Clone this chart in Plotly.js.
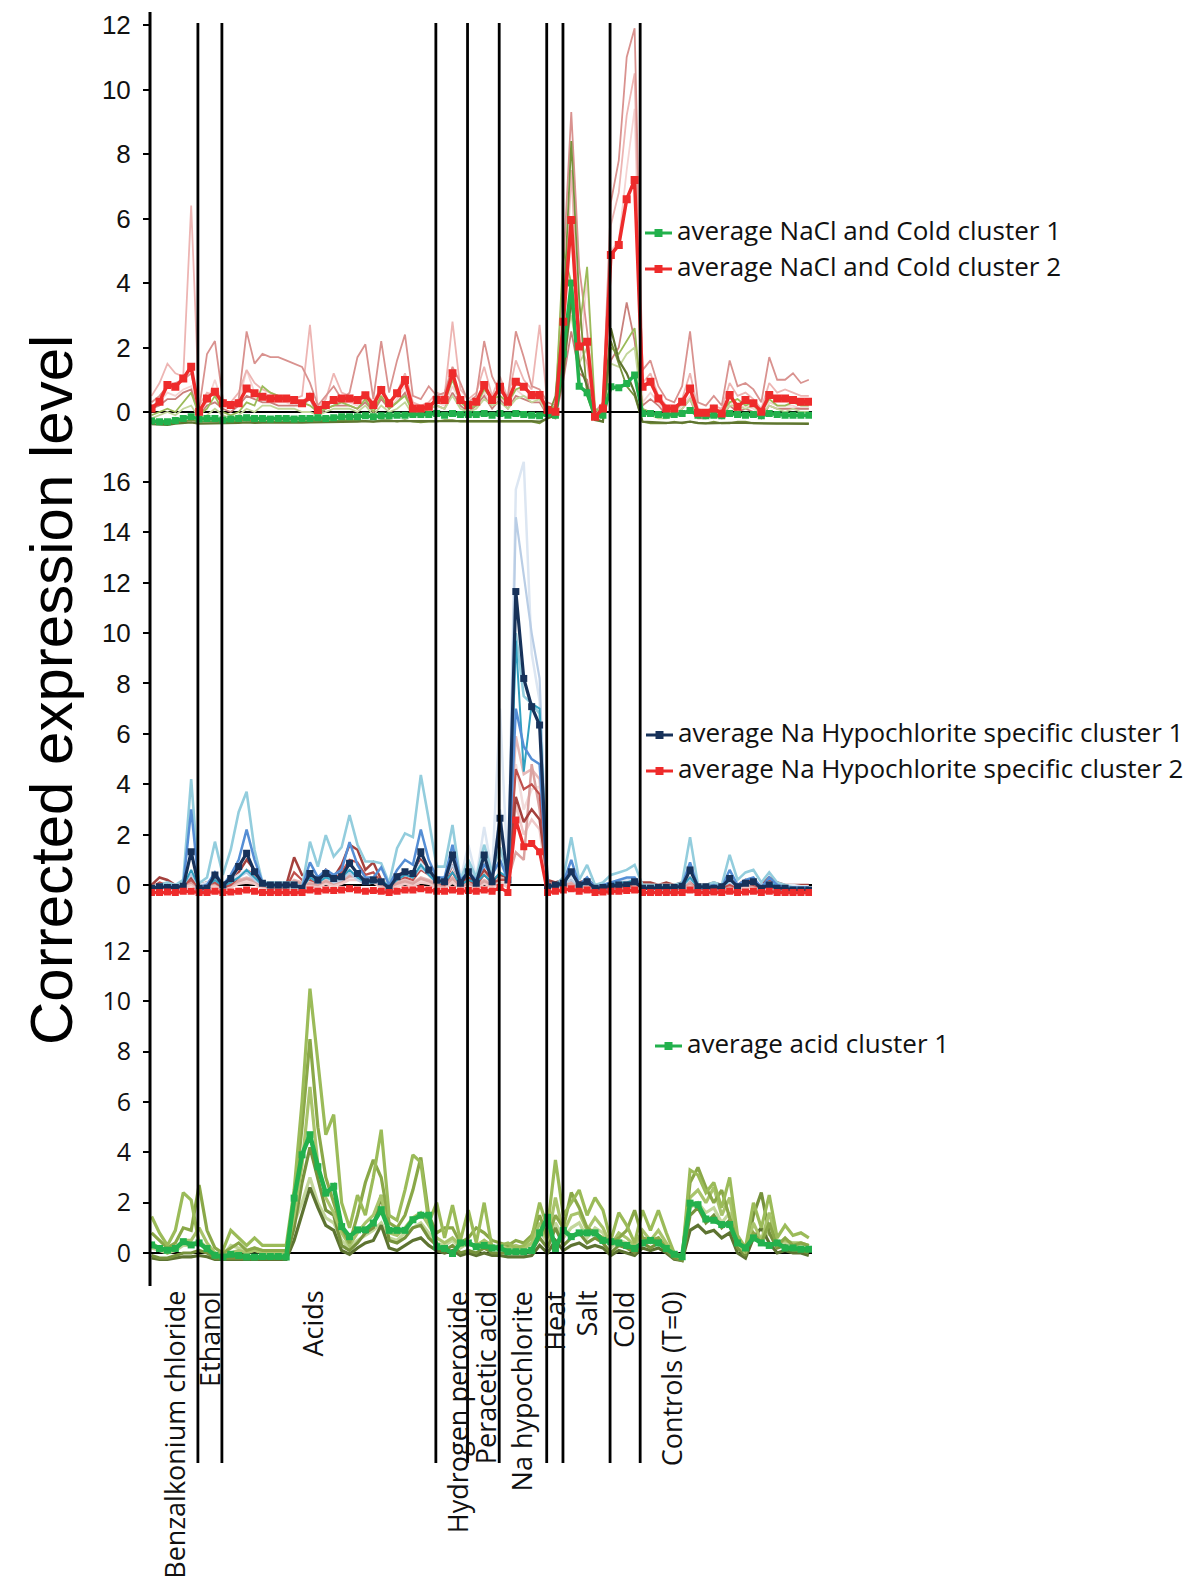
<!DOCTYPE html>
<html><head><meta charset="utf-8">
<script src="https://cdn.plot.ly/plotly-3.0.1.min.js"></script>
<style>html,body{margin:0;padding:0;background:#fff}#chart{width:1200px;height:1585px}</style>
</head><body><div id="chart"></div>
<script>
// ---------- sample index (84 samples) ----------
const samples = [0,1,2,3,4,5,6,7,8,9,10,11,12,13,14,15,16,17,18,19,20,21,22,23,24,25,26,27,28,29,30,31,32,33,34,35,36,37,38,39,40,41,42,43,44,45,46,47,48,49,50,51,52,53,54,55,56,57,58,59,60,61,62,63,64,65,66,67,68,69,70,71,72,73,74,75,76,77,78,79,80,81,82,83];

// section boundaries (in sample units) and labels
const sectionLines = [5.85, 8.88, 35.9, 39.9, 43.9, 49.9, 51.95, 57.9, 61.7];
const conditionLabels = ["Benzalkonium chloride","Ethanol","Acids","Hydrogen peroxide","Peracetic acid","Na hypochlorite","Heat","Salt","Cold","Controls (T=0)"];
const conditionLabelPos = [2.8, 7.25, 20.2, 38.6, 42.2, 46.7, 50.8, 54.8, 59.6, 65.7];

// ---------- Panel 1: NaCl and Cold clusters ----------
const naclAvg1 = [
-0.28,-0.30,-0.30,-0.26,-0.20,-0.15,-0.22,-0.20,-0.20,-0.25,
-0.22,-0.20,-0.18,-0.20,-0.20,-0.22,-0.20,-0.20,-0.22,-0.20,
-0.20,-0.18,-0.20,-0.18,-0.15,-0.15,-0.15,-0.12,-0.15,-0.12,
-0.12,-0.10,-0.10,-0.08,-0.08,-0.08,-0.05,-0.10,-0.05,-0.08,
-0.08,-0.08,-0.05,-0.10,-0.05,-0.10,-0.05,-0.08,-0.10,-0.12,
-0.05,-0.10,1.80,4.00,0.80,0.60,-0.15,-0.10,0.78,0.75,
0.88,1.15,-0.05,-0.05,-0.08,-0.10,-0.08,-0.05,0.05,-0.10,
-0.12,-0.10,-0.12,-0.05,-0.08,-0.10,-0.08,-0.12,-0.05,-0.08,
-0.10,-0.10,-0.10,-0.10];
const naclAvg2 = [
0.11,0.32,0.84,0.78,1.04,1.40,0.01,0.42,0.63,0.27,
0.22,0.27,0.73,0.58,0.47,0.42,0.42,0.42,0.37,0.27,
0.47,0.06,0.22,0.37,0.42,0.42,0.37,0.52,0.22,0.68,
0.27,0.58,0.99,0.11,0.11,0.16,0.37,0.37,1.20,0.37,
0.22,0.32,0.84,0.37,0.78,0.32,0.94,0.78,0.53,0.53,
0.06,0.01,2.80,5.95,2.03,2.18,-0.15,0.11,4.87,5.18,
6.60,7.19,0.78,0.94,0.42,0.11,0.11,0.32,0.73,-0.02,
-0.02,0.11,-0.05,0.53,0.16,0.37,0.27,0.01,0.53,0.42,
0.42,0.37,0.32,0.32];
const naclPink1 = [
0.50,0.90,1.50,1.20,1.10,6.40,0.20,0.60,0.50,0.30,
0.30,0.60,1.30,0.90,0.70,0.60,0.50,0.50,0.40,0.50,
2.70,0.10,0.40,1.20,0.60,0.50,0.40,0.60,0.30,0.80,
0.30,0.60,1.20,0.30,0.20,0.30,0.60,0.50,2.80,0.70,
0.40,0.60,1.40,0.50,1.10,0.40,1.60,1.00,0.70,2.70,
0.20,0.10,2.00,7.50,2.20,1.50,-0.10,0.20,5.80,6.80,
9.20,10.50,0.90,1.20,0.50,0.20,0.10,0.40,1.20,0.10,
0.00,0.20,0.10,0.90,0.50,0.60,0.40,0.10,0.90,0.60,
0.70,0.60,0.50,0.50];
const naclPink2 = [
0.30,0.50,0.80,0.90,1.00,1.20,0.10,1.80,2.20,0.40,
0.20,0.40,2.50,1.50,1.80,1.70,1.70,1.60,1.50,1.40,
0.90,0.20,0.50,0.80,0.40,0.60,1.70,2.10,0.40,2.20,
0.60,1.60,2.40,0.50,0.40,0.80,0.50,0.60,1.40,0.90,
0.30,0.50,2.20,1.10,0.60,0.50,2.50,1.70,0.80,0.70,
0.30,0.20,4.50,9.30,4.50,2.50,0.00,0.30,6.50,7.80,
11.00,11.90,1.30,1.60,0.80,0.40,0.30,0.80,2.50,0.30,
0.20,0.50,0.20,1.60,0.80,0.90,0.70,0.30,1.70,1.00,
1.00,1.20,0.90,1.00];
const naclPink3 = [
0.20,0.30,0.60,0.50,0.70,0.80,0.00,0.30,1.00,0.20,
0.10,0.30,1.30,0.60,0.40,0.30,0.30,0.30,0.20,0.30,
0.60,0.00,0.20,0.40,0.30,0.30,0.20,0.50,0.10,0.50,
0.10,0.40,0.80,0.10,0.10,0.20,0.30,0.20,0.80,0.30,
0.10,0.30,0.60,0.20,0.50,0.20,0.70,0.50,0.40,0.40,
0.00,-0.10,1.20,3.20,1.30,4.20,-0.20,0.00,5.00,5.30,
7.50,9.40,0.30,0.60,0.30,0.00,0.00,0.20,0.50,-0.10,
-0.10,0.00,-0.10,0.30,0.10,0.20,0.10,-0.10,0.30,0.20,
0.20,0.20,0.10,0.10];
const naclPink4 = [
0.10,0.20,0.40,0.40,0.60,0.70,-0.10,0.20,0.30,0.10,
0.00,0.20,0.50,0.40,0.30,0.30,0.20,0.20,0.20,0.20,
0.40,-0.10,0.10,0.20,0.20,0.20,0.10,0.30,0.00,0.40,
0.10,0.30,0.60,0.00,0.00,0.10,0.20,0.10,0.60,0.20,
0.00,0.20,0.50,0.10,0.40,0.10,0.50,0.40,0.30,0.30,
-0.10,-0.20,1.00,2.50,1.20,1.00,-0.20,-0.10,1.60,2.00,
3.40,2.20,0.20,0.40,0.20,-0.10,-0.10,0.10,0.40,-0.20,
-0.20,-0.10,-0.20,0.20,0.00,0.10,0.00,-0.20,0.20,0.10,
0.10,0.10,0.10,0.10];
const naclGreen1 = [
-0.30,-0.35,-0.35,-0.30,-0.30,-0.25,-0.30,-0.30,-0.30,-0.30,
-0.30,-0.28,-0.25,-0.30,-0.30,-0.30,-0.30,-0.28,-0.28,-0.30,
-0.28,-0.25,-0.28,-0.28,-0.25,-0.25,-0.25,-0.28,-0.30,-0.25,
-0.25,-0.30,-0.25,-0.30,-0.32,-0.30,-0.30,-0.25,-0.25,-0.30,
-0.30,-0.28,-0.30,-0.30,-0.30,-0.28,-0.30,-0.30,-0.30,-0.35,
-0.20,0.50,3.00,8.40,3.50,0.50,-0.20,-0.30,2.20,1.50,
0.80,0.50,-0.30,-0.35,-0.35,-0.35,-0.30,-0.35,-0.30,-0.35,
-0.35,-0.30,-0.35,-0.35,-0.30,-0.30,-0.35,-0.35,-0.35,-0.35,
-0.35,-0.35,-0.35,-0.35];
const naclGreen2 = [
-0.10,0.00,0.10,0.00,0.30,0.60,-0.10,0.10,0.50,0.00,
-0.10,0.00,0.30,0.20,0.80,0.60,0.50,0.50,0.40,0.30,
0.20,0.00,0.10,0.20,0.30,0.20,0.10,0.40,0.00,0.50,
0.10,0.30,0.50,0.00,0.10,0.20,0.40,0.30,1.00,0.30,
0.10,0.20,0.70,0.40,0.50,0.30,0.70,0.80,0.50,0.60,
0.00,0.20,5.00,4.00,2.50,4.50,0.10,0.00,2.00,1.80,
2.20,2.60,0.10,0.00,-0.10,-0.10,0.00,0.30,0.80,0.00,
-0.10,0.10,0.00,0.30,0.40,0.20,0.30,0.00,0.40,0.20,
0.20,0.30,0.20,0.20];
const naclGreen3 = [
-0.20,-0.10,0.00,-0.10,0.10,0.20,-0.20,-0.10,0.10,-0.10,
-0.20,-0.10,0.10,0.00,0.20,0.20,0.10,0.10,0.10,0.00,
0.00,-0.10,0.00,0.10,0.10,0.10,0.00,0.20,-0.10,0.20,
0.00,0.10,0.30,-0.10,0.00,0.10,0.20,0.10,0.50,0.10,
0.00,0.10,0.40,0.20,0.30,0.10,0.40,0.50,0.30,0.40,
-0.10,0.00,2.00,3.00,1.50,2.00,0.00,-0.10,1.50,1.40,
1.80,2.00,0.00,-0.10,-0.20,-0.20,-0.10,0.10,0.40,-0.10,
-0.20,0.00,-0.10,0.20,0.20,0.10,0.20,-0.10,0.20,0.10,
0.00,0.10,0.00,0.00];
const naclGreen4 = [
-0.38,-0.40,-0.40,-0.36,-0.35,-0.32,-0.36,-0.36,-0.35,-0.36,
-0.35,-0.34,-0.32,-0.34,-0.33,-0.34,-0.33,-0.33,-0.34,-0.33,
-0.32,-0.32,-0.32,-0.30,-0.30,-0.30,-0.30,-0.28,-0.30,-0.28,
-0.28,-0.28,-0.26,-0.28,-0.28,-0.28,-0.26,-0.27,-0.26,-0.27,
-0.27,-0.27,-0.26,-0.28,-0.26,-0.27,-0.26,-0.27,-0.28,-0.30,
-0.20,-0.10,1.20,3.50,1.50,0.80,-0.25,-0.30,2.60,1.60,
1.20,0.60,-0.30,-0.32,-0.33,-0.34,-0.33,-0.33,-0.30,-0.34,
-0.35,-0.34,-0.35,-0.34,-0.33,-0.34,-0.35,-0.36,-0.35,-0.36,
-0.36,-0.37,-0.37,-0.37];

// ---------- Panel 2: Na hypochlorite specific clusters ----------
const hypoAvg1 = [
-0.13,-0.07,-0.10,-0.10,-0.05,1.32,-0.13,-0.13,0.40,0.00,
0.26,0.73,1.26,0.53,0.07,0.00,0.00,0.00,0.00,-0.13,
0.46,0.20,0.46,0.26,0.33,0.86,0.46,0.13,0.20,0.13,
-0.13,0.33,0.53,0.46,1.32,0.60,0.20,0.13,1.19,0.07,
0.53,0.07,1.19,0.13,2.65,0.20,11.65,8.20,7.08,6.35,
-0.07,0.00,0.07,0.53,0.00,0.13,-0.13,-0.10,-0.05,0.00,
0.00,0.13,-0.13,-0.13,-0.10,-0.10,-0.10,-0.05,0.60,-0.07,
-0.07,-0.13,-0.07,0.26,-0.07,0.07,0.13,-0.13,0.00,-0.13,
-0.13,-0.20,-0.20,-0.20];
const hypoAvg2 = [
-0.30,-0.30,-0.28,-0.30,-0.25,-0.25,-0.30,-0.30,-0.25,-0.30,
-0.28,-0.25,-0.20,-0.25,-0.30,-0.30,-0.30,-0.30,-0.30,-0.30,
-0.20,-0.25,-0.20,-0.22,-0.20,-0.15,-0.20,-0.25,-0.22,-0.25,
-0.30,-0.25,-0.20,-0.20,-0.15,-0.20,-0.25,-0.25,-0.20,-0.25,
-0.22,-0.25,-0.20,-0.25,-0.10,-0.30,2.58,1.52,1.65,1.32,
-0.30,-0.25,-0.20,-0.15,-0.25,-0.20,-0.30,-0.28,-0.25,-0.25,
-0.22,-0.20,-0.30,-0.30,-0.30,-0.30,-0.30,-0.30,-0.20,-0.30,
-0.30,-0.28,-0.30,-0.25,-0.30,-0.28,-0.25,-0.30,-0.25,-0.30,
-0.30,-0.30,-0.30,-0.30];
const hypoLightBlue = [
-0.10,0.00,0.10,0.00,0.20,4.20,0.07,0.30,1.72,0.40,
1.40,2.90,3.70,1.40,0.10,0.10,0.10,0.10,0.10,-0.10,
1.72,0.73,1.98,1.13,1.50,2.78,1.60,0.93,0.93,0.86,
0.07,1.46,2.05,1.90,4.37,2.60,0.73,0.73,2.38,0.20,
1.00,0.30,1.60,0.50,1.50,0.30,10.00,7.50,7.20,6.80,
-0.10,0.00,0.30,1.90,0.20,0.80,0.00,0.10,0.40,0.50,
0.60,0.80,0.00,0.00,0.00,0.00,0.00,0.10,1.90,0.00,
0.00,0.10,0.00,1.20,0.20,0.50,0.60,0.10,0.50,0.10,
0.00,-0.10,-0.10,-0.10];
const hypoMidBlue = [
-0.10,-0.10,0.00,-0.10,0.00,3.00,-0.10,0.00,0.50,0.00,
0.40,1.00,2.20,1.00,0.10,0.00,0.00,0.00,0.00,-0.10,
0.90,0.30,0.60,0.40,0.60,1.70,0.80,0.30,0.30,0.70,
0.00,0.60,1.00,0.80,2.20,1.00,0.30,0.30,1.60,0.20,
0.50,0.20,0.80,0.40,1.00,0.20,7.00,5.50,5.00,4.80,
-0.10,0.00,0.10,1.00,0.00,0.30,-0.10,0.00,0.10,0.20,
0.30,0.30,-0.10,-0.10,-0.10,-0.10,-0.10,0.00,0.90,-0.10,
-0.10,0.00,-0.10,0.60,0.00,0.20,0.30,-0.10,0.30,0.00,
-0.10,-0.10,-0.10,-0.10];
const hypoTeal = [
-0.10,-0.10,-0.05,-0.10,-0.05,0.60,-0.10,-0.05,0.20,-0.05,
0.10,0.30,0.60,0.30,0.00,-0.05,-0.05,-0.05,-0.05,-0.10,
0.30,0.10,0.30,0.20,0.30,0.60,0.30,0.10,0.10,0.20,
-0.05,0.20,0.40,0.30,0.80,0.40,0.10,0.10,0.50,0.00,
0.20,0.10,0.40,0.10,0.50,0.30,9.70,4.50,7.20,7.00,
-0.10,-0.05,0.00,0.50,-0.05,0.10,-0.10,-0.05,0.00,0.10,
0.10,0.20,-0.10,-0.10,-0.10,-0.10,-0.10,-0.05,0.30,-0.10,
-0.10,-0.05,-0.10,0.20,-0.05,0.05,0.10,-0.10,0.10,-0.05,
-0.10,-0.10,-0.15,-0.15];
const hypoPale1 = [
-0.05,0.00,0.05,0.00,0.10,0.50,0.00,0.10,0.30,0.05,
0.20,0.40,0.60,0.30,0.05,0.00,0.00,0.00,0.00,-0.05,
0.40,0.10,0.40,0.20,0.30,0.60,0.30,0.10,0.20,0.20,
0.00,0.30,0.50,0.40,0.90,0.50,0.20,0.30,1.00,0.20,
1.60,0.30,2.30,0.50,7.00,0.30,15.70,16.80,9.20,7.30,
0.00,0.00,0.10,0.30,0.00,0.10,-0.05,0.00,0.10,0.20,
0.20,0.30,0.00,0.00,0.00,0.00,0.00,0.00,0.30,0.00,
0.00,0.00,0.00,0.20,0.00,0.10,0.10,0.00,0.10,0.00,
0.00,0.00,-0.05,-0.05];
const hypoPale2 = [
-0.10,-0.05,0.00,-0.05,0.05,0.40,-0.05,0.05,0.20,0.00,
0.10,0.30,0.50,0.20,0.00,-0.05,-0.05,-0.05,-0.05,-0.10,
0.30,0.10,0.30,0.10,0.20,0.50,0.20,0.05,0.10,0.10,
-0.05,0.20,0.40,0.30,0.70,0.40,0.10,0.20,0.80,0.10,
0.80,0.20,1.20,0.30,3.00,0.20,14.60,12.30,10.00,8.20,
-0.05,-0.05,0.05,0.20,-0.05,0.05,-0.10,-0.05,0.05,0.10,
0.10,0.20,-0.05,-0.05,-0.05,-0.05,-0.05,-0.05,0.20,-0.05,
-0.05,-0.05,-0.05,0.10,-0.05,0.05,0.05,-0.05,0.05,-0.05,
-0.10,-0.10,-0.10,-0.10];
const hypoBrown1 = [
0.00,0.30,0.20,0.00,0.10,0.30,0.00,0.10,0.20,0.00,
0.10,0.50,1.00,0.60,0.10,0.00,0.00,0.00,1.10,0.40,
0.40,0.20,0.60,0.30,0.80,1.60,1.40,0.60,0.90,0.20,
0.00,0.40,0.50,0.30,1.00,0.60,0.20,0.10,0.80,0.10,
0.30,0.10,0.60,0.20,0.40,0.30,3.50,2.50,3.00,2.60,
0.20,0.10,0.20,0.30,0.10,0.20,0.00,0.00,0.00,0.10,
0.00,0.20,0.10,0.10,0.00,0.10,0.00,0.10,0.30,0.00,
0.00,0.10,0.00,0.10,0.00,0.20,0.10,0.00,0.30,0.10,
0.00,0.00,0.00,0.00];
const hypoBrown2 = [
-0.10,0.10,0.00,-0.10,0.00,0.20,-0.10,0.00,0.10,-0.10,
0.00,0.30,0.60,0.40,0.00,-0.10,-0.10,-0.10,0.50,0.20,
0.20,0.10,0.40,0.20,0.50,1.00,0.90,0.40,0.50,0.10,
-0.10,0.20,0.30,0.20,0.60,0.40,0.10,0.00,0.50,0.00,
0.20,0.00,0.40,0.10,0.20,0.20,4.60,3.80,4.00,3.60,
0.10,0.00,0.10,0.20,0.00,0.10,-0.10,-0.10,-0.10,0.00,
-0.10,0.10,0.00,0.00,-0.10,0.00,-0.10,0.00,0.20,-0.10,
-0.10,0.00,-0.10,0.00,-0.10,0.10,0.00,-0.10,0.20,0.00,
-0.10,-0.10,-0.10,-0.10];
const hypoSalmon1 = [
-0.05,0.05,0.05,-0.05,0.05,0.15,-0.05,0.05,0.10,-0.05,
0.05,0.20,0.30,0.20,0.00,-0.05,-0.05,-0.05,0.20,0.10,
0.10,0.05,0.20,0.10,0.20,0.40,0.40,0.20,0.30,0.05,
-0.05,0.10,0.20,0.10,0.30,0.20,0.05,0.00,0.30,0.00,
0.10,0.00,0.20,0.05,0.30,0.40,5.90,4.40,4.60,4.20,
0.05,0.00,0.05,0.10,0.00,0.05,-0.05,-0.05,-0.05,0.00,
-0.05,0.05,0.00,0.00,-0.05,0.00,-0.05,0.00,0.10,-0.05,
-0.05,0.00,-0.05,0.00,-0.05,0.05,0.00,-0.05,0.10,0.00,
-0.05,-0.05,-0.05,-0.05];
const hypoSalmon2 = [
-0.15,-0.05,-0.05,-0.15,-0.05,0.05,-0.15,-0.05,0.00,-0.15,
-0.05,0.10,0.20,0.10,-0.10,-0.15,-0.15,-0.15,0.10,0.00,
0.00,-0.05,0.10,0.00,0.10,0.30,0.30,0.10,0.20,-0.05,
-0.15,0.00,0.10,0.00,0.20,0.10,-0.05,-0.10,0.20,-0.10,
0.00,-0.10,0.10,-0.05,0.20,0.00,4.80,3.00,3.80,3.90,
-0.05,-0.10,-0.05,0.00,-0.10,-0.05,-0.15,-0.15,-0.15,-0.10,
-0.15,-0.05,-0.10,-0.10,-0.15,-0.10,-0.15,-0.10,0.00,-0.15,
-0.15,-0.10,-0.15,-0.10,-0.15,-0.05,-0.10,-0.15,0.00,-0.10,
-0.15,-0.15,-0.15,-0.15];
const hypoSalmon3 = [
-0.20,-0.10,-0.10,-0.20,-0.10,0.00,-0.20,-0.10,-0.05,-0.20,
-0.10,0.05,0.10,0.05,-0.15,-0.20,-0.20,-0.20,0.05,-0.05,
-0.05,-0.10,0.05,-0.05,0.05,0.20,0.20,0.05,0.10,-0.10,
-0.20,-0.05,0.05,-0.05,0.10,0.05,-0.10,-0.15,0.10,-0.15,
-0.05,-0.15,0.05,-0.10,0.10,-0.10,3.20,2.00,2.60,2.20,
-0.10,-0.15,-0.10,-0.05,-0.15,-0.10,-0.20,-0.20,-0.20,-0.15,
-0.20,-0.10,-0.15,-0.15,-0.20,-0.15,-0.20,-0.15,-0.05,-0.20,
-0.20,-0.15,-0.20,-0.15,-0.20,-0.10,-0.15,-0.20,-0.05,-0.15,
-0.20,-0.20,-0.20,-0.20];
const hypoSalmon4 = [
-0.10,0.00,0.00,-0.10,0.00,0.10,-0.10,0.00,0.05,-0.10,
0.00,0.15,0.25,0.15,-0.05,-0.10,-0.10,-0.10,0.15,0.05,
0.05,0.00,0.15,0.05,0.15,0.35,0.35,0.15,0.25,0.00,
-0.10,0.05,0.15,0.05,0.25,0.15,0.00,-0.05,0.25,-0.05,
0.05,-0.05,0.15,0.00,0.25,0.20,1.30,1.00,4.80,3.00,
0.00,-0.05,0.00,0.05,-0.05,0.00,-0.10,-0.10,-0.10,-0.05,
-0.10,0.00,-0.05,-0.05,-0.10,-0.05,-0.10,-0.05,0.05,-0.10,
-0.10,-0.05,-0.10,-0.05,-0.10,0.00,-0.05,-0.10,0.05,-0.05,
-0.10,-0.10,-0.10,-0.10];

// ---------- Panel 3: acid cluster ----------
const acidAvg = [
0.32,0.18,0.11,0.18,0.45,0.32,0.40,0.18,-0.09,-0.16,
-0.05,-0.10,-0.16,-0.16,-0.14,-0.14,-0.14,-0.16,2.18,3.90,
4.70,3.43,2.38,2.65,1.05,0.65,0.92,0.92,1.19,1.72,
0.90,0.90,0.90,1.32,1.50,1.50,0.25,0.18,-0.02,0.40,
0.40,0.25,0.30,0.20,0.20,0.05,0.05,0.05,0.10,0.80,
1.42,0.18,0.90,0.65,0.80,0.80,0.80,0.50,0.45,0.40,
0.30,0.18,0.40,0.50,0.40,0.18,-0.05,-0.15,1.98,1.92,
1.35,1.30,1.13,1.13,0.40,0.20,0.60,0.40,0.30,0.40,
0.20,0.20,0.15,0.15];
const acidMember1 = [
1.45,0.80,0.30,0.90,2.40,2.10,0.40,0.20,-0.10,0.10,
0.90,0.60,0.30,0.60,0.30,0.30,0.30,0.30,2.50,6.00,
10.50,7.50,4.70,5.50,2.00,1.00,2.30,1.50,3.00,4.90,
1.50,1.30,2.50,3.90,3.60,1.20,2.00,0.60,1.90,0.50,
1.70,0.40,2.00,0.20,0.30,0.40,0.20,0.30,0.60,2.00,
1.00,3.70,1.50,2.00,2.50,1.50,2.20,1.70,0.50,1.60,
1.10,0.40,1.70,0.90,1.70,0.80,0.00,-0.20,3.30,3.10,
2.40,2.80,1.80,3.00,0.70,0.20,2.00,1.00,2.30,0.60,
1.10,0.70,0.80,0.60];
const acidMember2 = [
0.80,0.50,0.20,0.40,1.00,0.90,2.70,0.90,0.20,0.00,
0.20,0.40,0.10,0.20,0.10,0.10,0.10,0.10,2.00,5.00,
8.50,5.00,3.00,2.00,1.00,0.40,1.50,2.80,3.70,3.00,
1.20,1.00,1.50,2.50,3.80,1.50,0.80,1.00,1.00,0.40,
0.60,1.00,0.80,0.50,0.40,0.30,0.50,0.40,0.70,1.50,
0.60,1.50,1.00,2.40,1.80,1.00,0.80,0.60,0.40,0.60,
0.90,1.70,0.60,0.50,0.60,0.20,-0.10,-0.20,2.80,3.40,
2.60,2.00,2.50,1.40,0.50,0.10,0.80,0.40,1.20,0.30,
0.60,0.30,0.40,0.30];
const acidMember3 = [
0.40,0.20,0.00,0.20,0.50,0.50,1.00,0.40,0.00,-0.10,
0.00,0.10,0.00,0.10,0.00,0.00,0.00,0.00,1.50,3.50,
6.60,3.50,2.20,1.60,0.80,0.30,0.80,1.20,1.50,2.30,
0.80,0.70,1.00,1.40,1.60,1.10,0.60,0.40,0.60,0.30,
0.40,0.30,0.50,0.30,0.20,0.20,0.30,0.20,0.40,1.20,
0.50,2.20,0.80,1.50,1.60,0.90,1.40,1.00,0.30,0.80,
0.60,0.30,0.90,0.50,0.90,0.40,-0.10,-0.20,2.20,2.50,
2.00,2.60,1.50,2.20,0.40,0.00,1.20,0.50,1.60,0.40,
0.50,0.40,0.40,0.30];
const acidMember4 = [
-0.10,-0.20,-0.20,-0.10,0.00,0.00,0.10,0.00,-0.20,-0.20,
-0.20,-0.20,-0.20,-0.20,-0.20,-0.20,-0.20,-0.20,1.00,2.80,
4.20,3.00,1.70,1.50,0.30,0.10,0.40,0.80,1.00,2.30,
0.50,0.40,0.60,1.00,1.10,0.60,0.30,0.10,0.30,0.00,
0.10,0.00,0.20,0.00,0.00,0.00,0.00,0.00,0.10,0.60,
0.20,1.00,0.30,0.60,0.80,0.40,0.60,0.40,0.00,0.30,
0.20,0.00,0.40,0.20,0.40,0.10,-0.20,-0.30,1.50,1.80,
1.20,1.50,1.00,1.30,0.20,-0.10,1.50,2.40,0.80,0.20,
0.30,0.10,0.10,0.00];
const acidMember5 = [
0.20,0.10,0.00,0.10,0.30,0.30,0.50,0.20,-0.10,-0.10,
0.30,0.20,0.10,0.20,0.10,0.10,0.10,0.10,1.20,2.00,
3.00,2.00,1.40,1.20,0.50,0.20,0.50,0.70,0.90,1.20,
0.60,0.50,0.80,1.00,1.20,0.80,0.40,0.30,0.50,0.20,
0.40,0.20,0.50,0.20,0.20,0.10,0.20,0.20,0.30,0.90,
0.40,1.20,0.60,1.00,1.20,0.60,1.00,0.80,0.20,0.50,
0.40,0.20,0.60,0.40,0.60,0.30,0.00,-0.10,1.80,2.00,
1.60,1.80,1.20,1.60,0.40,0.10,0.70,0.50,0.80,0.30,
0.40,0.30,0.30,0.20];
const acidMember6 = [
-0.20,-0.25,-0.25,-0.20,-0.15,-0.15,-0.10,-0.15,-0.25,-0.25,
-0.25,-0.25,-0.25,-0.25,-0.25,-0.25,-0.25,-0.25,0.50,1.60,
2.60,1.80,1.10,0.90,0.10,-0.05,0.20,0.40,0.50,1.10,
0.20,0.10,0.30,0.50,0.60,0.30,0.10,0.00,0.10,-0.10,
0.00,-0.10,0.00,-0.10,-0.10,-0.15,-0.15,-0.15,-0.10,0.30,
0.00,0.50,0.10,0.30,0.40,0.20,0.30,0.20,-0.10,0.10,
0.00,-0.10,0.20,0.10,0.20,0.00,-0.25,-0.30,0.90,1.10,
0.80,0.90,0.60,0.80,0.00,-0.20,0.60,1.00,0.40,0.00,
0.10,0.00,0.00,-0.10];

// ---------- layout helpers (pixel -> paper) ----------
const W = 1200, H = 1585;
const pxX = p => p / W;
const pxY = p => 1 - p / H;
const panels = [
  {zero: 412, unit: 32.25, range: [-0.5, 12.4]},
  {zero: 885, unit: 25.19, range: [-0.5, 17.1]},
  {zero: 1253, unit: 25.17, range: [-0.6, 12.2]}
];
const dom = p => [pxY(p.zero - p.range[0]*p.unit), pxY(p.zero - p.range[1]*p.unit)];

function member(y, axis, color, width) {
  return {x: samples, y: y, yaxis: axis, type: 'scatter', mode: 'lines',
          line: {color: color, width: width}, showlegend: false, hoverinfo: 'skip'};
}
function average(y, axis, color, width, msize, name) {
  return {x: samples, y: y, yaxis: axis, type: 'scatter', mode: 'lines+markers', name: name,
          showlegend: false, line: {color: color, width: width},
          marker: {symbol: 'square', size: msize, color: color}};
}

const avgNacl1 = average(naclAvg1, 'y', '#22b14c', 3.5, 7, 'average NaCl and Cold cluster 1');
const avgNacl2 = average(naclAvg2, 'y', '#ee2b2b', 3.5, 8, 'average NaCl and Cold cluster 2');
const avgHypo1 = average(hypoAvg1, 'y2', '#17325a', 3.2, 7, 'average Na Hypochlorite specific cluster 1');
const avgHypo2 = average(hypoAvg2, 'y2', '#ee2b2b', 3.2, 7, 'average Na Hypochlorite specific cluster 2');
const avgAcid = average(acidAvg, 'y3', '#23b14d', 4.5, 7, 'average acid cluster 1');

const traces = [
  member(naclPink3, 'y', '#f5d4d3', 1.8),
  member(naclPink1, 'y', '#edb5b3', 1.8),
  member(naclPink2, 'y', '#d9928f', 1.8),
  member(naclPink4, 'y', '#c9807c', 1.8),
  member(naclGreen3, 'y', '#c3d69b', 1.8),
  member(naclGreen2, 'y', '#9bbb59', 1.8),
  member(naclGreen1, 'y', '#77933c', 1.8),
  member(naclGreen4, 'y', '#5f7530', 2.2),
  avgNacl1, avgNacl2,
  member(hypoSalmon2, 'y2', '#f2dcdb', 2.5),
  member(hypoSalmon3, 'y2', '#efc9c8', 2.5),
  member(hypoSalmon1, 'y2', '#e6b9b8', 2.5),
  member(hypoSalmon4, 'y2', '#dba3a1', 2.5),
  member(hypoBrown2, 'y2', '#c0504d', 2.2),
  member(hypoBrown1, 'y2', '#a5413d', 2.5),
  member(hypoPale1, 'y2', '#dce6f2', 2.5),
  member(hypoPale2, 'y2', '#b9cde5', 2.2),
  member(hypoLightBlue, 'y2', '#93cddd', 2.6),
  member(hypoTeal, 'y2', '#31a0c0', 2.0),
  member(hypoMidBlue, 'y2', '#558ed5', 2.5),
  avgHypo1, avgHypo2,
  member(acidMember5, 'y3', '#c3d69b', 3.2),
  member(acidMember6, 'y3', '#5d7331', 3.2),
  member(acidMember4, 'y3', '#76923c', 3.2),
  member(acidMember3, 'y3', '#a9c46c', 3.2),
  member(acidMember2, 'y3', '#8aa848', 3.2),
  member(acidMember1, 'y3', '#9bbb59', 3.2),
  avgAcid
];

const tickFontA = {family: 'Liberation Sans, Arial, sans-serif', size: 26, color: '#111'};
const tickFontB = {family: 'Open Sans, sans-serif', size: 25, color: '#111'};
function yax(p, font, zw) {
  return {domain: dom(p), range: p.range, anchor: 'x', dtick: 2, tick0: 0,
          ticks: 'outside', ticklen: 6, tickwidth: 2, tickcolor: '#000',
          ticklabelstandoff: 7,
          showgrid: false, showline: false, zeroline: true, zerolinecolor: '#000',
          zerolinewidth: zw, tickfont: font, fixedrange: true};
}

const shapes = [];
shapes.push({type: 'line', xref: 'paper', yref: 'paper', x0: pxX(150), x1: pxX(150),
             y0: pxY(12), y1: pxY(1286), line: {color: '#000', width: 3}});
sectionLines.forEach(v => shapes.push({type: 'line', xref: 'x', yref: 'paper', x0: v, x1: v,
             y0: pxY(23), y1: pxY(1463), line: {color: '#000', width: 2.8}}));

const annotations = conditionLabels.map((t, k) => ({
  text: t, x: conditionLabelPos[k], xref: 'x', y: pxY(1289), yref: 'paper',
  xanchor: 'center', yanchor: 'top', textangle: -90, showarrow: false,
  font: {family: 'Open Sans, sans-serif', size: 27, color: '#111'}
}));
annotations.push({text: 'Corrected expression level', x: pxX(52), xref: 'paper', y: pxY(690), yref: 'paper',
  xanchor: 'center', yanchor: 'middle', textangle: -90, showarrow: false,
  font: {family: 'Liberation Sans, Arial, sans-serif', size: 60, color: '#000'}});

// legend entries beside each panel (symbol = line + square marker of the trace)
const legendEntries = [
  {trace: avgNacl1, y: 233, x0: 645, x1: 672},
  {trace: avgNacl2, y: 269, x0: 645, x1: 672},
  {trace: avgHypo1, y: 735, x0: 646, x1: 673},
  {trace: avgHypo2, y: 771, x0: 646, x1: 673},
  {trace: avgAcid, y: 1046, x0: 655, x1: 682}
];
legendEntries.forEach(e => {
  const c = e.trace.line.color, xm = (e.x0 + e.x1) / 2;
  shapes.push({type: 'line', xref: 'paper', yref: 'paper', x0: pxX(e.x0), x1: pxX(e.x1),
               y0: pxY(e.y), y1: pxY(e.y), line: {color: c, width: 3}});
  shapes.push({type: 'rect', xref: 'paper', yref: 'paper', x0: pxX(xm - 4), x1: pxX(xm + 4),
               y0: pxY(e.y - 4), y1: pxY(e.y + 4), fillcolor: c, line: {width: 0}});
  annotations.push({text: e.trace.name, x: pxX(e.x1 + 3), xref: 'paper', y: pxY(e.y - 3), yref: 'paper',
    xanchor: 'left', yanchor: 'middle', showarrow: false,
    font: {family: 'Open Sans, sans-serif', size: 26, color: '#111'}});
});

const layout = {
  width: W, height: H, margin: {l: 0, r: 0, t: 0, b: 0},
  paper_bgcolor: '#fff', plot_bgcolor: 'rgba(0,0,0,0)',
  xaxis: {domain: [pxX(150), pxX(812)], range: [-0.2, 83.4], visible: false, fixedrange: true},
  yaxis: yax(panels[0], tickFontA, 2.5),
  yaxis2: yax(panels[1], tickFontA, 2.5),
  yaxis3: yax(panels[2], tickFontB, 1.5),
  shapes: shapes,
  annotations: annotations,
  showlegend: false
};

Plotly.newPlot('chart', traces, layout, {displayModeBar: false, staticPlot: true});
</script>
</body></html>
